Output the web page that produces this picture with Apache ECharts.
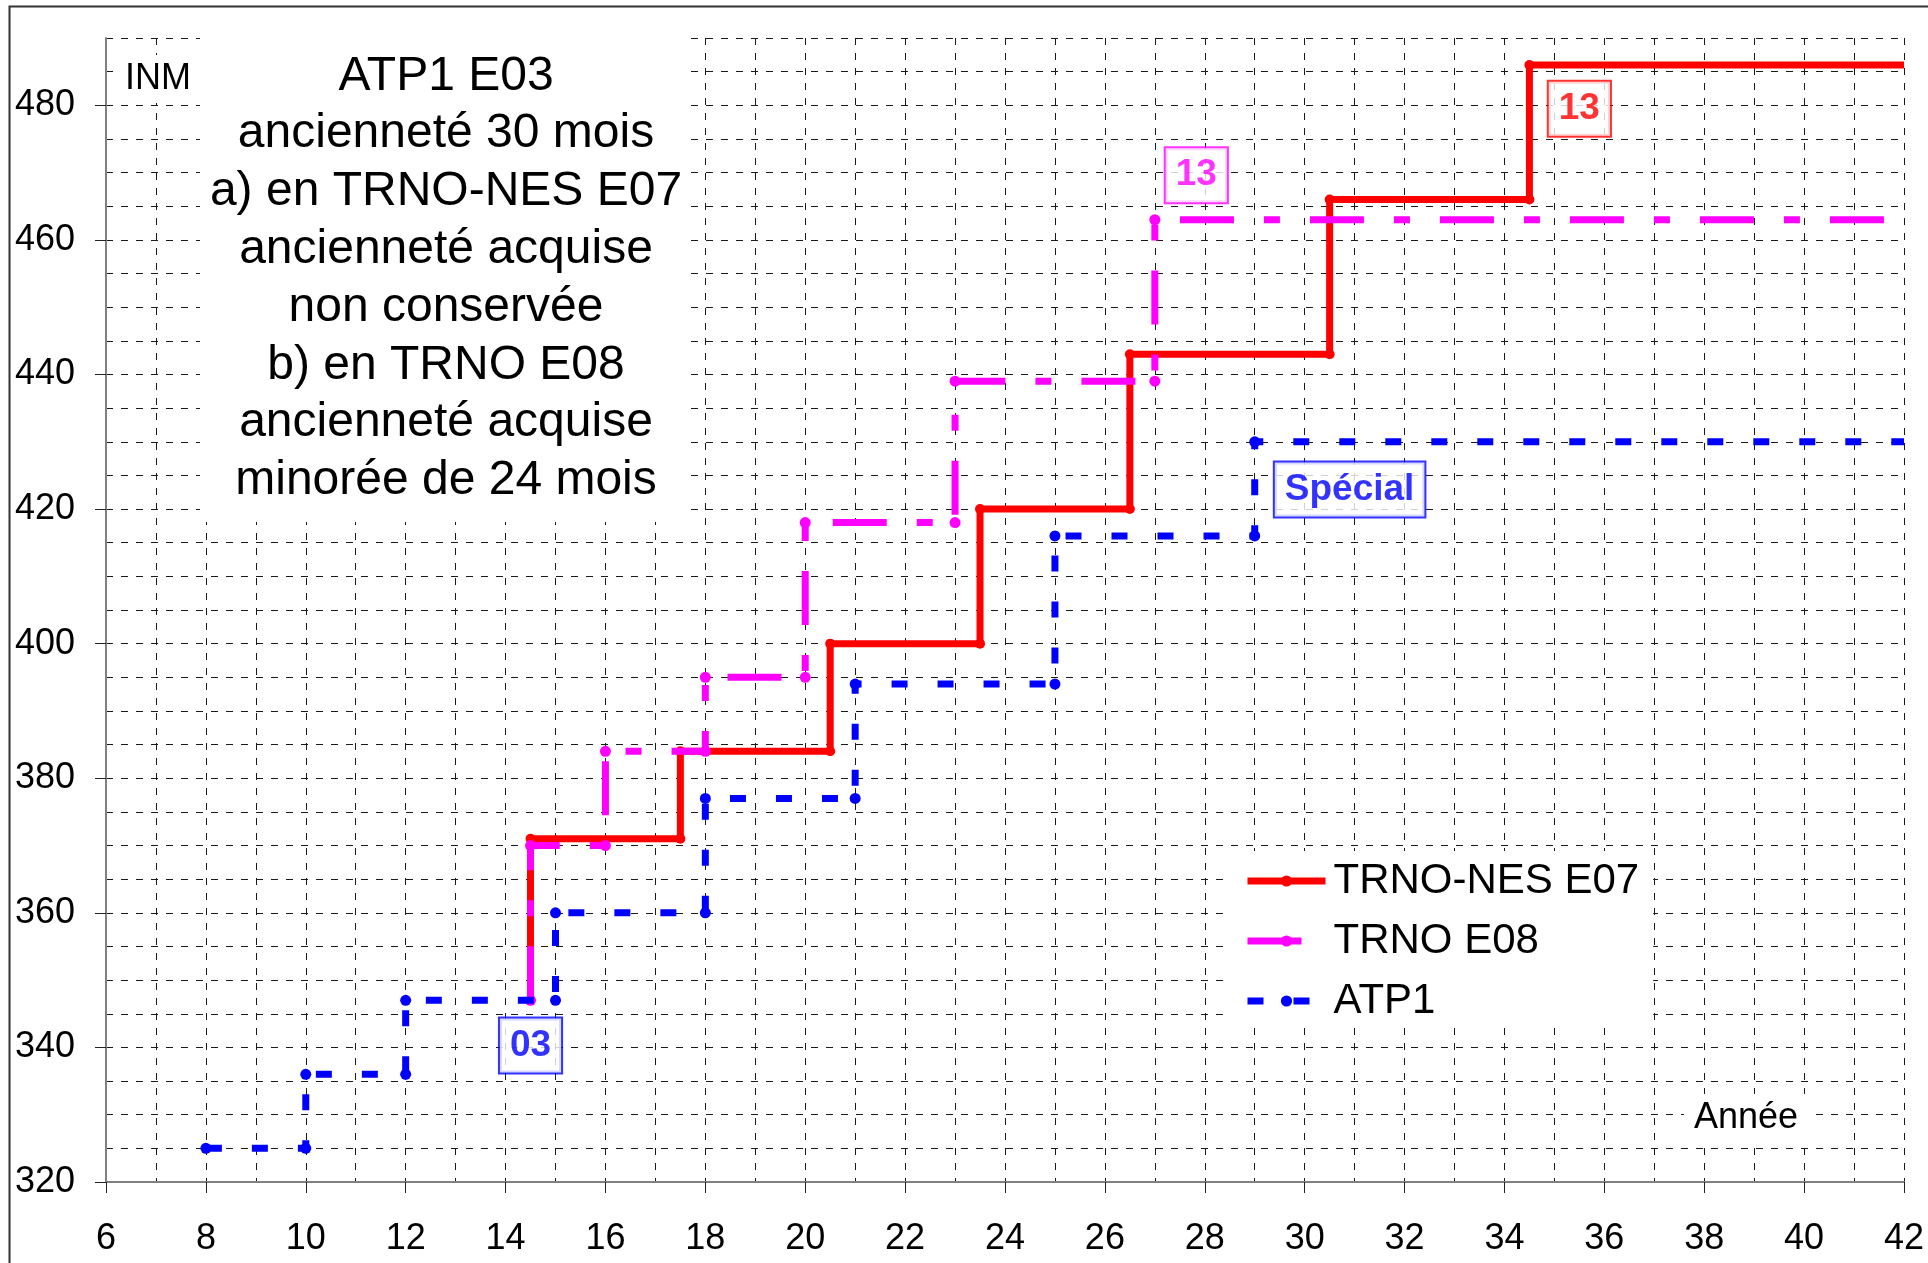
<!DOCTYPE html>
<html>
<head>
<meta charset="utf-8">
<script src="https://cdn.jsdelivr.net/npm/echarts@6/dist/echarts.min.js"></script>
<style>
  html, body { margin: 0; padding: 0; background: #fff; }
  #chart { width: 1928px; height: 1263px; }
</style>
</head>
<body>
<div id="chart"></div>
<script>
const FONT = "'Liberation Sans', Arial, sans-serif";

// Carrière : indice INM par année, paliers (chaque coin du palier est un point)
const trnoNesYears = [14.5, 14.5, 17.5, 17.5, 20.5, 20.5, 23.5, 23.5, 26.5, 26.5, 30.5, 30.5, 34.5, 34.5, 42];
const trnoNesInm   = [347, 371, 371, 384, 384, 400, 400, 420, 420, 443, 443, 466, 466, 486, 486];

const trnoYears = [14.5, 14.5, 16, 16, 18, 18, 20, 20, 23, 23, 27, 27, 42];
const trnoInm   = [347, 370, 370, 384, 384, 395, 395, 418, 418, 439, 439, 463, 463];

const atp1Years = [8, 10, 10, 12, 12, 15, 15, 18, 18, 21, 21, 25, 25, 29, 29, 42];
const atp1Inm   = [325, 325, 336, 336, 347, 347, 360, 360, 377, 377, 394, 394, 416, 416, 430, 430];

const seriesNames = ['TRNO-NES E07', 'TRNO E08', 'ATP1'];

// Graduations
const xTickLabels = [6, 8, 10, 12, 14, 16, 18, 20, 22, 24, 26, 28, 30, 32, 34, 36, 38, 40, 42];
const yTickLabels = [320, 340, 360, 380, 400, 420, 440, 460, 480];

// Étiquettes d'échelon : texte, série concernée, position (année, INM)
const tagTexts  = ['03', '13', '13', 'Spécial'];
const tagSeries = ['ATP1', 'TRNO E08', 'TRNO-NES E07', 'ATP1'];
const tagYears  = [14.5, 27.83, 35.5, 30.9];
const tagInm    = [340.3, 469.6, 479.5, 422.9];

const titleLines = [
  'ATP1 E03',
  'ancienneté 30 mois',
  'a) en TRNO-NES E07',
  'ancienneté acquise',
  'non conservée',
  'b) en TRNO E08',
  'ancienneté acquise',
  'minorée de 24 mois'
];

const COLORS = { 'TRNO-NES E07': '#ff0000', 'TRNO E08': '#ff00ff', 'ATP1': '#0000ff' };

function points(xs, ys) {
  return xs.map((x, i) => ({
    value: [x, ys[i]],
    symbol: i === xs.length - 1 ? 'none' : 'circle'
  }));
}

const gridLine = { color: '#1a1a1a', width: 1, type: [7, 8] };
const labelStyle = { fontSize: 36, fontFamily: FONT, color: '#000' };
const tickStyle = { color: '#222', width: 1 };

const chart = echarts.init(document.getElementById('chart'), null, { renderer: 'canvas' });

chart.setOption({
  animation: false,
  backgroundColor: '#fff',
  grid: { left: 106, right: 24, top: 38, bottom: 81, containLabel: false, outerBoundsMode: 'none' },
  xAxis: [
    {
      // quadrillage vertical : une ligne par année
      type: 'value', min: 6, max: 42, interval: 1,
      axisLine: { show: true, onZero: false, lineStyle: { color: '#808080', width: 2 } },
      axisTick: { show: false },
      axisLabel: { show: false },
      splitLine: { show: true, lineStyle: gridLine }
    },
    {
      // graduations et libellés toutes les deux années
      type: 'value', min: 6, max: 42, interval: 2, position: 'bottom',
      axisLine: { show: false, onZero: false },
      axisTick: { show: true, customValues: xTickLabels, length: 11, lineStyle: tickStyle },
      axisLabel: Object.assign({ customValues: xTickLabels, margin: 39 }, labelStyle),
      splitLine: { show: false }
    }
  ],
  yAxis: [
    {
      // quadrillage horizontal : une ligne tous les 5 points
      type: 'value', min: 320, max: 490, interval: 5,
      axisLine: { show: true, lineStyle: { color: '#808080', width: 2 } },
      axisTick: { show: false },
      axisLabel: { show: false },
      splitLine: { show: true, lineStyle: gridLine }
    },
    {
      // graduations et libellés tous les 20 points
      type: 'value', min: 320, max: 490, interval: 20, position: 'left',
      axisLine: { show: false },
      axisTick: { show: true, customValues: yTickLabels, length: 11, lineStyle: tickStyle },
      axisLabel: Object.assign({ customValues: yTickLabels, margin: 31 }, labelStyle),
      splitLine: { show: false }
    }
  ],
  legend: {
    orient: 'vertical',
    left: 1230, top: 851,
    padding: [9, 14, 5, 14],
    backgroundColor: '#fff',
    itemWidth: 78, itemHeight: 14, itemGap: 18,
    selectedMode: false,
    data: seriesNames,
    lineStyle: { width: 7 },
    textStyle: { fontSize: 42, fontFamily: FONT, color: '#000', padding: [0, 0, 0, 3] }
  },
  series: [
    {
      name: 'TRNO-NES E07', type: 'line', z: 3,
      data: points(trnoNesYears, trnoNesInm),
      symbol: 'circle', symbolSize: 10,
      lineStyle: { color: COLORS['TRNO-NES E07'], width: 7 },
      itemStyle: { color: COLORS['TRNO-NES E07'] }
    },
    {
      name: 'TRNO E08', type: 'line', z: 4,
      data: points(trnoYears, trnoInm),
      symbol: 'circle', symbolSize: 11,
      lineStyle: { color: COLORS['TRNO E08'], width: 7, type: [54, 30, 16, 30] },
      itemStyle: { color: COLORS['TRNO E08'] }
    },
    {
      name: 'ATP1', type: 'line', z: 5,
      data: points(atp1Years, atp1Inm),
      symbol: 'circle', symbolSize: 11,
      lineStyle: { color: COLORS['ATP1'], width: 7, type: [16, 30] },
      itemStyle: { color: COLORS['ATP1'] }
    },
    {
      name: 'tags', type: 'scatter', z: 6, silent: true,
      symbolSize: 0,
      data: tagTexts.map((t, i) => ({
        value: [tagYears[i], tagInm[i]],
        label: { formatter: t, color: COLORS[tagSeries[i]], borderColor: COLORS[tagSeries[i]] }
      })),
      label: {
        show: true, position: 'inside',
        fontSize: 37, fontWeight: 'bold', fontFamily: FONT,
        lineHeight: 38,
        backgroundColor: '#fff', borderWidth: 2,
        padding: [8, 10, 8, 10]
      }
    }
  ],
  graphic: [
    {
      type: 'rect', silent: true, z: 50,
      shape: { x: 200, y: 35, width: 489, height: 487 },
      style: { fill: '#fff' }
    },
    {
      type: 'text', silent: true, z: 51,
      x: 446, y: 47.5,
      style: {
        text: titleLines.join('\n'),
        fontSize: 48, fontFamily: FONT, lineHeight: 57.8,
        align: 'center', verticalAlign: 'top', fill: '#000'
      }
    },
    {
      type: 'text', silent: true, z: 51,
      x: 158, y: 79,
      style: {
        text: 'INM', fontSize: 36, fontFamily: FONT,
        align: 'center', verticalAlign: 'middle', fill: '#000',
        backgroundColor: '#fff', padding: [6, 10]
      }
    },
    {
      type: 'text', silent: true, z: 51,
      x: 1746, y: 1118,
      style: {
        text: 'Année', fontSize: 36, fontFamily: FONT,
        align: 'center', verticalAlign: 'middle', fill: '#000',
        backgroundColor: '#fff', padding: [6, 10]
      }
    },
    {
      type: 'rect', silent: true, z: 60,
      shape: { x: 9.5, y: 6.5, width: 2000, height: 2000 },
      style: { fill: 'none', stroke: '#333', lineWidth: 2 }
    }
  ]
});
</script>
</body>
</html>
